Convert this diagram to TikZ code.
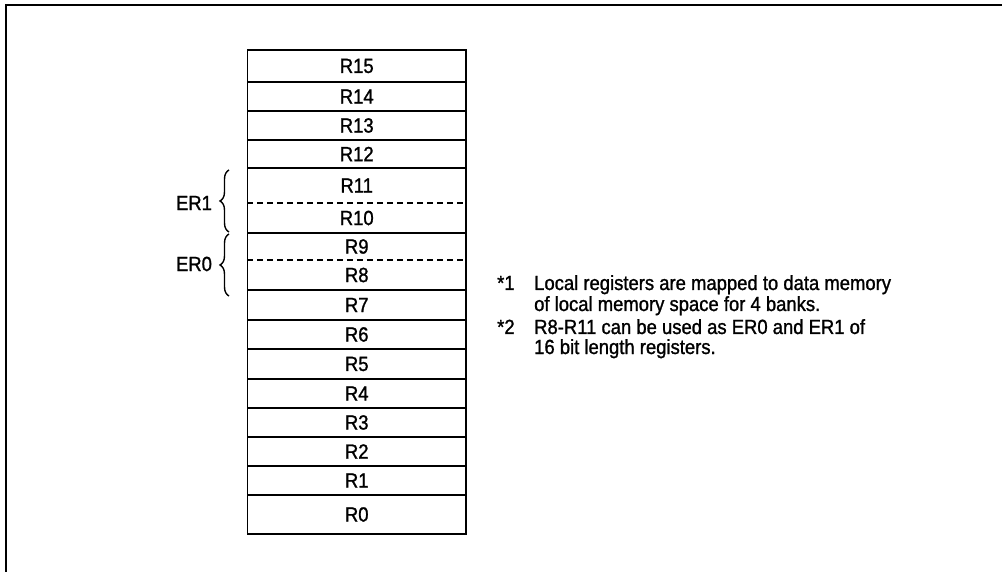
\documentclass[tikz,border=0pt]{standalone}
\usepackage{fontspec}
\setmainfont{Liberation Sans}[FakeBold=1.2,FakeStretch=0.9]
\newfontfamily\txtfont{Liberation Sans}[FakeBold=1.2,FakeStretch=0.9]
\usetikzlibrary{decorations.pathreplacing}
\begin{document}
\begin{tikzpicture}[x=1pt,y=-1pt,
  reg/.style={inner sep=0pt, minimum width=218.5pt, font=\txtfont\fontsize{20.5}{24}\selectfont},
  sep/.style={line width=1.6pt},
  dsep/.style={line width=1.5pt, dash pattern=on 6pt off 4pt},
  lbl/.style={inner sep=0pt, font=\txtfont\fontsize{20.5}{24}\selectfont},
  note/.style={inner sep=0pt, anchor=base west, font=\txtfont\fontsize{20.5}{24}\selectfont},
  brc/.style={line width=1.4pt, decorate, decoration={brace, amplitude=9pt}}]
\useasboundingbox (0,0) rectangle (1002,572);
\draw[line width=2pt] (6,572) -- (6,5) -- (1002,5);
\foreach \n/\t/\b in {15/50/82, 14/82/111, 13/111/140, 12/140/168, 11/168/203, 10/203/233,
  9/233/260, 8/260/290, 7/290/320, 6/320/349, 5/349/379, 4/379/408, 3/408/437,
  2/437/466, 1/466/495, 0/495/534}
  \node[reg, minimum height={(\b-\t)*1pt}] (r\n) at (356.75,{(\t+\b)/2}) {R\n};
\draw[sep] (r15.north west) rectangle (r0.south east);
\foreach \n in {15,14,13,12,10,8,7,6,5,4,3,2,1}
  \draw[sep] (r\n.south west) -- (r\n.south east);
\foreach \n in {11,9}
  \draw[dsep] (r\n.south west) -- (r\n.south east);
\coordinate (b1t) at (229,170);
\coordinate (b1b) at (229,232);
\coordinate (b0t) at (229,234);
\coordinate (b0b) at (229,296);
\draw[brc] (b1b) -- (b1t);
\draw[brc] (b0b) -- (b0t);
\node[lbl] (er1) at (194,203) {ER1};
\node[lbl] (er0) at (194,264) {ER0};
\node[note] (s1) at (497,290) {*1};
\node[note] (n1) at (534,290) {Local registers are mapped to data memory};
\node[note] (n2) at (534,311) {of local memory space for 4 banks.};
\node[note] (s2) at (497,334) {*2};
\node[note] (n3) at (534,334) {R8-R11 can be used as ER0 and ER1 of};
\node[note] (n4) at (534,354) {16 bit length registers.};
\end{tikzpicture}
\end{document}
